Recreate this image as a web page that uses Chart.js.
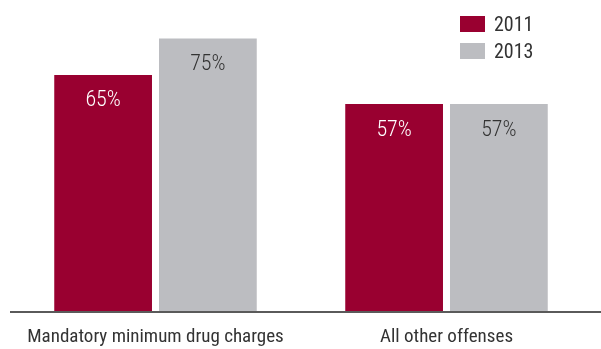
<!DOCTYPE html>
<html>
<head>
<meta charset="utf-8">
<script src="https://cdn.jsdelivr.net/npm/chart.js@4"></script>
<style>
  html, body { margin: 0; padding: 0; background: #fff; }
  #wrap { position: relative; width: 601px; height: 349px; }
  #legend { position: absolute; left: 460px; top: 10px; font-family: "Roboto Condensed", sans-serif; font-size: 20px; color: #333; }
  .item { display: flex; align-items: center; height: 27px; line-height: 16px; }
  .swatch { width: 25px; height: 16px; margin-right: 9px; }
</style>
</head>
<body>
<div id="wrap">
  <canvas id="chart" width="601" height="349"></canvas>
  <div id="legend"></div>
</div>
<script>
// data
const categories = ["Mandatory minimum drug charges", "All other offenses"];
const years = ["2011", "2013"];
const values2011 = [65, 57];
const values2013 = [75, 57];

const colors = ["#990030", "#bcbdc1"];
const labelColors = ["#ffffff", "#333333"];
const FONT = "'Roboto Condensed', sans-serif";

// draw the % labels inside the bars
const barLabels = {
  id: "barLabels",
  afterDatasetsDraw(chart) {
    const ctx = chart.ctx;
    chart.data.datasets.forEach((ds, i) => {
      chart.getDatasetMeta(i).data.forEach((bar, j) => {
        ctx.save();
        ctx.fillStyle = labelColors[i];
        ctx.font = "300 22px " + FONT;
        ctx.textAlign = "center";
        ctx.textBaseline = "middle";
        ctx.fillText(ds.data[j] + "%", bar.x, bar.y + 26);
        ctx.restore();
      });
    });
  }
};

// baseline that runs past the plot area
const baseLine = {
  id: "baseLine",
  afterDatasetsDraw(chart) {
    const ctx = chart.ctx;
    const y = chart.scales.y.getPixelForValue(0);
    ctx.save();
    ctx.strokeStyle = "#5a5a5a";
    ctx.lineWidth = 2;
    ctx.beginPath();
    ctx.moveTo(10, y);
    ctx.lineTo(chart.width, y);
    ctx.stroke();
    ctx.restore();
  }
};

const chart = new Chart(document.getElementById("chart"), {
  type: "bar",
  data: {
    labels: categories,
    datasets: [
      { label: years[0], data: values2011, backgroundColor: colors[0] },
      { label: years[1], data: values2013, backgroundColor: colors[1] }
    ]
  },
  options: {
    responsive: false,
    animation: false,
    categoryPercentage: 0.72,
    barPercentage: 0.933,
    layout: { padding: { left: 10, right: 9, top: 2, bottom: 0 } },
    plugins: {
      legend: { display: false },
      tooltip: { enabled: false }
    },
    scales: {
      x: {
        grid: { display: false },
        border: { display: false },
        afterFit: (scale) => { scale.height = 37; },
        ticks: { color: "#333", padding: 6, maxRotation: 0, minRotation: 0, autoSkip: false, font: { family: FONT, size: 19 } }
      },
      y: {
        display: false,
        min: 0,
        max: 85
      }
    }
  },
  plugins: [barLabels, baseLine]
});

// html legend, stacked
const legendEl = document.getElementById("legend");
chart.data.datasets.forEach((ds) => {
  const item = document.createElement("div");
  item.className = "item";
  const sw = document.createElement("span");
  sw.className = "swatch";
  sw.style.background = ds.backgroundColor;
  item.appendChild(sw);
  item.appendChild(document.createTextNode(ds.label));
  legendEl.appendChild(item);
});
</script>
</body>
</html>
